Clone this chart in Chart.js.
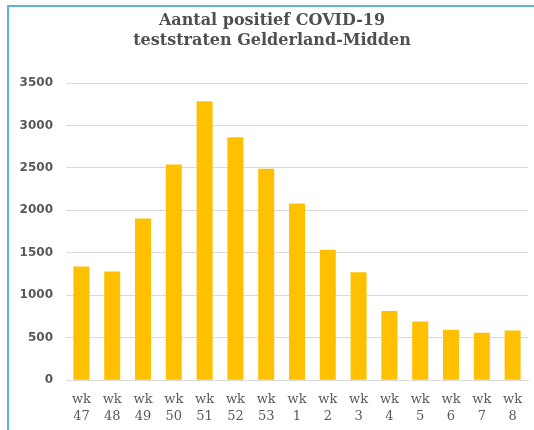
<!DOCTYPE html>
<html>
<head>
<meta charset="utf-8">
<script src="https://cdn.jsdelivr.net/npm/chart.js@4"></script>
<style>
  html, body { margin: 0; padding: 0; background: #fff; }
  #frame {
    position: absolute; left: 7px; top: 5px; width: 527px; height: 425px;
    border-left: 2px solid #5fb3d6; border-top: 2px solid #5fb3d6;
  }
  #wrap { position: absolute; left: 0; top: 0; width: 534px; height: 430px; }
</style>
</head>
<body>
<div id="frame"></div>
<div id="wrap"><canvas id="covidChart" width="534" height="430"></canvas></div>
<script>
// weken en aantallen
const weeks = ["47", "48", "49", "50", "51", "52", "53", "1", "2", "3", "4", "5", "6", "7", "8"];
const positives = [1340, 1280, 1905, 2540, 3285, 2860, 2490, 2080, 1535, 1270, 815, 690, 595, 560, 585];
const yTicks = [0, 500, 1000, 1500, 2000, 2500, 3000, 3500];

const labels = weeks.map(w => ["wk", w]);

const config = {
  type: "bar",
  data: {
    labels: labels,
    datasets: [
      {
        label: "Aantal positief",
        data: positives,
        backgroundColor: "#ffc000",
        categoryPercentage: 1,
        barPercentage: 0.52,
      },
    ],
  },
  options: {
    responsive: false,
    animation: false,
    layout: { padding: { left: 16, right: 6, top: 2, bottom: 2 } },
    plugins: {
      legend: { display: false },
      tooltip: { enabled: false },
      title: {
        display: true,
        text: ["Aantal positief COVID-19", "teststraten Gelderland-Midden"],
        color: "#505050",
        font: { family: "DejaVu Serif", size: 16, weight: "bold", lineHeight: 1.25 },
        padding: { top: 9, bottom: 32 },
      },
    },
    scales: {
      x: {
        grid: { display: false },
        border: { color: "#d9d9d9", width: 1 },
        ticks: {
          color: "#595959",
          font: { family: "DejaVu Serif", size: 13, lineHeight: 1.3 },
          maxRotation: 0,
          padding: 3,
        },
      },
      y: {
        min: 0,
        max: 3500,
        afterBuildTicks: axis => { axis.ticks = yTicks.map(v => ({ value: v })); },
        afterFit: axis => { axis.width = 50; },
        grid: { color: "#d9d9d9", drawTicks: false },
        border: { display: false },
        ticks: {
          color: "#595959",
          font: { family: "DejaVu Sans", size: 12, weight: "bold" },
          padding: 13,
          callback: v => String(v),
        },
      },
    },
  },
};

const ctx = document.getElementById("covidChart").getContext("2d");
const covidChart = new Chart(ctx, config);
</script>
</body>
</html>
